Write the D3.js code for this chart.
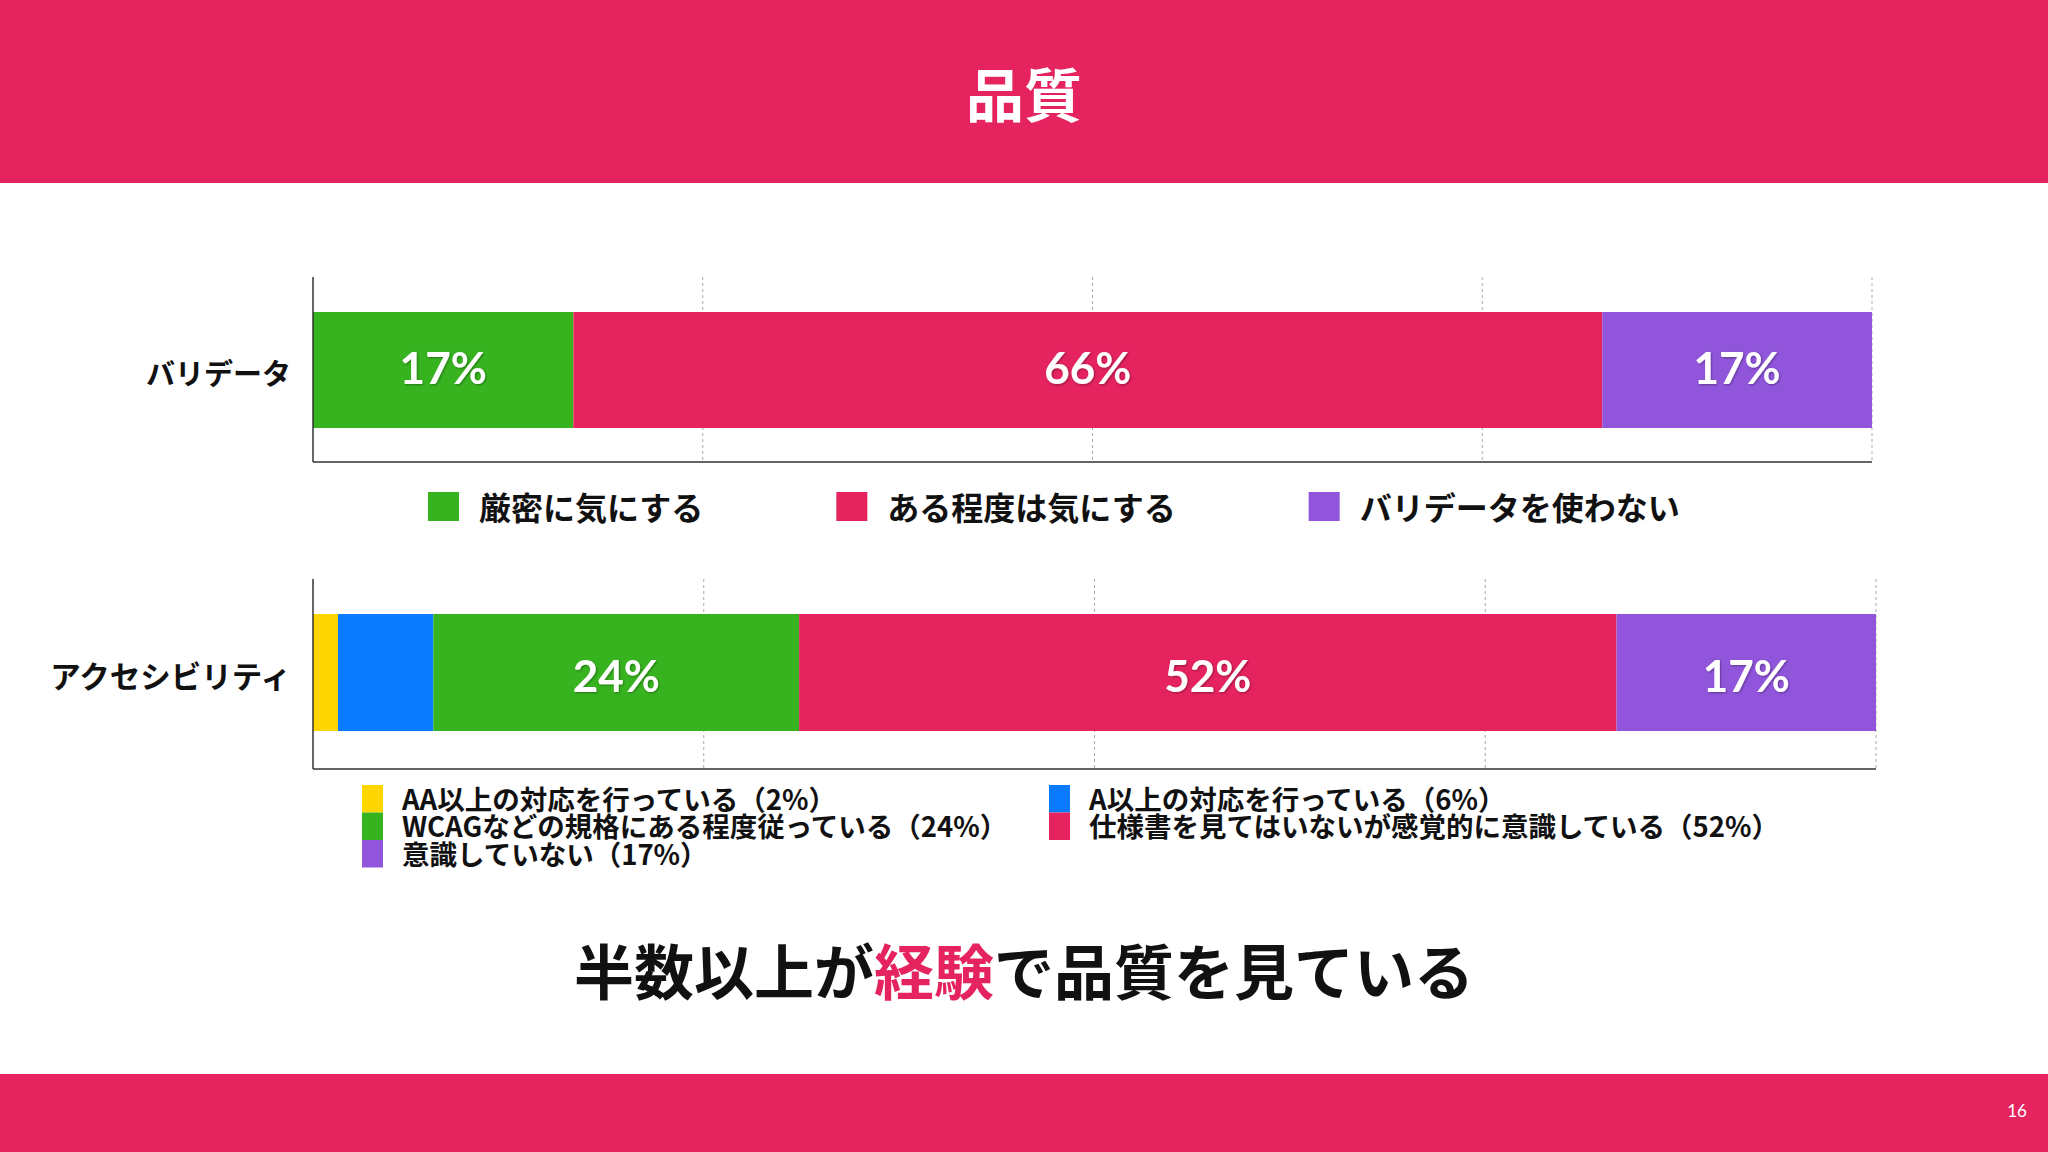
<!DOCTYPE html>
<html lang="ja">
<head>
<meta charset="utf-8">
<script src="https://cdn.jsdelivr.net/npm/d3@7"></script>
<style>
  html, body { margin: 0; padding: 0; background: #fff; }
  svg { display: block; }
  text { font-family: "Noto Sans CJK JP", "Noto Sans", sans-serif; }
</style>
</head>
<body>
<div id="slide"></div>
<script>
(function() {
    /********************************************
     * DATA
     ********************************************/
    const slideTitle = "品質";
    const pageNumber = "16";

    const validatorCategory = "バリデータ";
    const validatorKeys = ["厳密に気にする", "ある程度は気にする", "バリデータを使わない"];
    // bar widths, labels as printed on the bars
    const validatorValues = [16.7, 66.0, 17.3];
    const validatorLabels = ["17%", "66%", "17%"];

    const a11yCategory = "アクセシビリティ";
    const a11yKeys = [
        "AA以上の対応を行っている",
        "A以上の対応を行っている",
        "WCAGなどの規格にある程度従っている",
        "仕様書を見てはいないが感覚的に意識している",
        "意識していない"
    ];
    const a11yValues = [1.6, 6.1, 23.4, 52.3, 16.6];
    const a11yLabels = ["2%", "6%", "24%", "52%", "17%"];
    const a11yBarLabelShown = [false, false, true, true, true];

    const gridTicks = [0.25, 0.5, 0.75, 1];

    const conclusionParts = ["半数以上が", "経験", "で品質を見ている"];

    /********************************************
     * CONFIGURATION
     ********************************************/
    const width = 2048;
    const height = 1152;
    const pink = "#E4235F";
    const green = "#37B320";
    const purple = "#9155DC";
    const yellow = "#FFD600";
    const blue = "#0A7BFF";

    const validatorColors = [green, pink, purple];
    const a11yColors = [yellow, blue, green, pink, purple];

    const svg = d3.select("#slide").append("svg")
        .attr("width", width)
        .attr("height", height)
        .attr("viewBox", `0 0 ${width} ${height}`);

    const defs = svg.append("defs");
    defs.append("filter")
        .attr("id", "label-shadow")
        .attr("x", "-20%").attr("y", "-20%")
        .attr("width", "140%").attr("height", "140%")
        .append("feDropShadow")
        .attr("dx", 1).attr("dy", 1)
        .attr("stdDeviation", 1.2)
        .attr("flood-color", "#000")
        .attr("flood-opacity", 0.35);

    // Header & footer bands
    svg.append("rect")
        .attr("x", 0).attr("y", 0)
        .attr("width", width).attr("height", 183)
        .attr("fill", pink);

    svg.append("text")
        .attr("x", width / 2)
        .attr("y", 92)
        .attr("text-anchor", "middle")
        .attr("dominant-baseline", "central")
        .attr("fill", "#fff")
        .style("font-size", "58px")
        .style("font-weight", "700")
        .text(slideTitle);

    svg.append("rect")
        .attr("x", 0).attr("y", 1074)
        .attr("width", width).attr("height", height - 1074)
        .attr("fill", pink);

    svg.append("text")
        .attr("x", 2017)
        .attr("y", 1110)
        .attr("text-anchor", "middle")
        .attr("dominant-baseline", "central")
        .attr("fill", "#fff")
        .style("font-family", "Lato, sans-serif")
        .style("font-size", "17px")
        .text(pageNumber);

    /********************************************
     * STACKED BAR
     ********************************************/
    function drawStackedBar(opts) {
        const total = d3.sum(opts.values);
        const x = d3.scaleLinear()
            .domain([0, 1])
            .range([opts.x0, opts.x1]);

        const g = svg.append("g");

        // Dotted gridlines
        g.selectAll(".grid")
            .data(gridTicks)
            .join("line")
            .attr("class", "grid")
            .attr("x1", d => x(d)).attr("x2", d => x(d))
            .attr("y1", opts.top).attr("y2", opts.bottom)
            .attr("stroke", "#aaa")
            .attr("stroke-width", 1)
            .attr("stroke-dasharray", "3,3");

        // Segments
        let acc = 0;
        const segs = opts.values.map((v, i) => {
            const s = {
                start: acc / total,
                end: (acc + v) / total,
                label: opts.labels[i],
                shown: opts.shown ? opts.shown[i] : true,
                color: opts.colors[i]
            };
            acc += v;
            return s;
        });

        g.selectAll(".seg")
            .data(segs)
            .join("rect")
            .attr("class", "seg")
            .attr("x", d => x(d.start))
            .attr("width", d => x(d.end) - x(d.start))
            .attr("y", opts.barTop)
            .attr("height", opts.barBottom - opts.barTop)
            .attr("fill", d => d.color);

        g.selectAll(".val")
            .data(segs.filter(d => d.shown))
            .join("text")
            .attr("class", "val")
            .attr("x", d => (x(d.start) + x(d.end)) / 2)
            .attr("y", (opts.barTop + opts.barBottom) / 2 + opts.labelDy)
            .attr("text-anchor", "middle")
            .attr("dominant-baseline", "central")
            .attr("fill", "#fff")
            .attr("filter", "url(#label-shadow)")
            .style("font-family", "Lato, sans-serif")
            .style("font-size", "44px")
            .style("font-weight", "700")
            .text(d => d.label);

        // Axis lines
        g.append("line")
            .attr("x1", opts.x0).attr("x2", opts.x0)
            .attr("y1", opts.top).attr("y2", opts.bottom)
            .attr("stroke", "#333").attr("stroke-width", 1.5);
        g.append("line")
            .attr("x1", opts.x0).attr("x2", opts.x1)
            .attr("y1", opts.bottom).attr("y2", opts.bottom)
            .attr("stroke", "#333").attr("stroke-width", 1.5);

        // Category label
        g.append("text")
            .attr("x", opts.x0 - 22)
            .attr("y", (opts.barTop + opts.barBottom) / 2 + 2)
            .attr("text-anchor", "end")
            .attr("dominant-baseline", "central")
            .attr("fill", "#111")
            .style("font-size", opts.catSize)
            .style("font-weight", "700")
            .text(opts.category);
    }

    drawStackedBar({
        category: validatorCategory,
        values: validatorValues,
        labels: validatorLabels,
        colors: validatorColors,
        catSize: "29px",
        labelDy: -3,
        x0: 313, x1: 1872,
        top: 277, bottom: 462,
        barTop: 312, barBottom: 428
    });

    drawStackedBar({
        category: a11yCategory,
        values: a11yValues,
        labels: a11yLabels,
        shown: a11yBarLabelShown,
        colors: a11yColors,
        catSize: "30.5px",
        labelDy: 2,
        x0: 313, x1: 1876,
        top: 579, bottom: 769,
        barTop: 614, barBottom: 731
    });

    /********************************************
     * LEGENDS
     ********************************************/
    // Validator legend: single row, items placed after each other
    const legend1 = svg.append("g");
    let lx = 428;
    validatorKeys.forEach((k, i) => {
        const item = legend1.append("g").attr("transform", `translate(${lx}, 0)`);
        item.append("rect")
            .attr("x", 0).attr("y", 492)
            .attr("width", 31).attr("height", 29)
            .attr("fill", validatorColors[i]);
        const t = item.append("text")
            .attr("x", 51)
            .attr("y", 506)
            .attr("dominant-baseline", "central")
            .attr("fill", "#111")
            .style("font-size", "32px")
            .style("font-weight", "700")
            .text(k);
        lx += 51 + t.node().getComputedTextLength() + 133;
    });

    // Accessibility legend: two columns, row-major
    const legend2 = svg.append("g");
    const colX = [362, 1049];
    const rowTop = 785;
    const rowH = 27.5;
    a11yKeys.forEach((k, i) => {
        const col = i % 2;
        const row = Math.floor(i / 2);
        const y = rowTop + row * rowH;
        legend2.append("rect")
            .attr("x", colX[col]).attr("y", y)
            .attr("width", 21).attr("height", rowH)
            .attr("fill", a11yColors[i]);
        legend2.append("text")
            .attr("x", colX[col] + 40)
            .attr("y", y + rowH / 2 - 1)
            .attr("dominant-baseline", "central")
            .attr("fill", "#111")
            .style("font-size", "27.5px")
            .style("font-weight", "700")
            .text(`${k}（${a11yLabels[i]}）`);
    });

    /********************************************
     * CONCLUSION
     ********************************************/
    const concl = svg.append("text")
        .attr("x", width / 2)
        .attr("y", 968)
        .attr("text-anchor", "middle")
        .attr("dominant-baseline", "central")
        .attr("fill", "#111")
        .style("font-size", "60px")
        .style("font-weight", "700");
    concl.selectAll("tspan")
        .data(conclusionParts)
        .join("tspan")
        .attr("fill", (d, i) => i === 1 ? pink : "#111")
        .text(d => d);
})();
</script>
</body>
</html>
